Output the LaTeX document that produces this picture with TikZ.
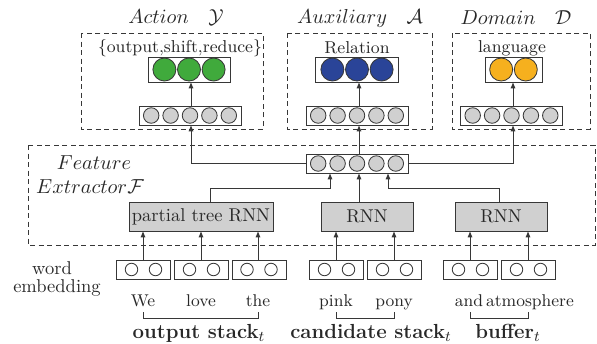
\documentclass[tikz,border=0pt]{standalone}
\usetikzlibrary{arrows.meta}
\definecolor{cgreen}{RGB}{64,170,60}
\definecolor{cblue}{RGB}{42,68,152}
\definecolor{corange}{RGB}{246,176,30}
\definecolor{cgray}{RGB}{208,208,208}
\definecolor{lcol}{RGB}{55,55,55}
\definecolor{tcol}{RGB}{40,40,40}
\begin{document}
\begin{tikzpicture}[x=0.54pt,y=-0.54pt,
  every node/.style={text=tcol},
  vbox/.style 2 args={draw=lcol, fill=white, line width=0.5pt, inner sep=0pt,
     minimum width=#1*0.54pt, minimum height=#2*0.54pt},
  rbox/.style={draw=lcol, fill=cgray, line width=0.5pt, inner sep=0pt,
     minimum width=#1*0.54pt, minimum height=29*0.54pt},
  dot/.style 2 args={circle, draw=lcol, line width=0.45pt, fill=#1, inner sep=0pt,
     minimum size=#2*0.54pt},
  dbox/.style={draw=lcol, dashed, dash pattern=on 2.7pt off 1.9pt, line width=0.45pt},
  conn/.style={draw=lcol, line width=0.5pt},
  arr/.style={conn, -{Latex[length=3.4pt,width=2.8pt]}},
  ttl/.style={font=\fontsize{10.6}{12}\selectfont, inner sep=0pt},
  lbl/.style={font=\fontsize{10}{12}\selectfont, inner sep=0pt},
  olbl/.style={font=\fontsize{9.3}{11}\selectfont, inner sep=0pt},
  wrd/.style={font=\fontsize{9.2}{11}\selectfont, inner sep=0pt},
  bld/.style={font=\fontsize{11}{13}\selectfont\bfseries, inner sep=0pt}
]
\useasboundingbox (0,0) rectangle (597,343);

% dashed boxes
\draw[dbox] (81,33) rectangle (263,129);
\draw[dbox] (287,33) rectangle (432,129);
\draw[dbox] (452,33) rectangle (590,129);
\draw[dbox] (28,145) rectangle (595,245);

% titles
\node[ttl] (tact) at (176,18) {$Action\quad\mathcal{Y}$};
\node[ttl] (taux) at (360,18) {$Auxiliary\quad\mathcal{A}$};
\node[ttl] (tdom) at (516,18) {$Domain\quad\mathcal{D}$};

% output labels
\node[olbl] (lact) at (180,48) {\{output,shift,reduce\}};
\node[olbl] (laux) at (357,48) {Relation};
\node[olbl] (ldom) at (512,48) {language};

% output layers
\node[vbox={82}{25}] (act) at (189,69.5) {};
\foreach \i in {-1,0,1} \node[dot={cgreen}{23}] at (189+\i*24.6,69.5) {};
\node[vbox={83}{25}] (aux) at (357,69.5) {};
\foreach \i in {-1,0,1} \node[dot={cblue}{23}] at (357+\i*24.6,69.5) {};
\node[vbox={57}{25}] (dom) at (513.5,69.5) {};
\foreach \i in {-1,1} \node[dot={corange}{23}] at (513.5+\i*12.3,69.5) {};

% hidden layers
\node[vbox={102}{19}] (actv) at (190,115.5) {};
\foreach \i in {-2,...,2} \node[dot={cgray}{15.5}] at (190+\i*19.4,115.5) {};
\node[vbox={102}{19}] (auxv) at (357,115.5) {};
\foreach \i in {-2,...,2} \node[dot={cgray}{15.5}] at (357+\i*19.4,115.5) {};
\node[vbox={102}{19}] (domv) at (511.5,115.5) {};
\foreach \i in {-2,...,2} \node[dot={cgray}{15.5}] at (511.5+\i*19.4,115.5) {};

% feature vector
\node[vbox={102}{19}] (feat) at (357,163.5) {};
\foreach \i in {-2,...,2} \node[dot={cgray}{15.5}] at (357+\i*19.4,163.5) {};

% feature extractor label
\node[ttl] (tf1) at (94,163) {$Feature$};
\node[ttl] (tf2) at (90,187) {$Extractor\mathcal{F}$};

% RNN boxes
\node[rbox=144, lbl] (ptr) at (201,216.5) {partial tree RNN};
\node[rbox=92, lbl] (rnn1) at (367,216.5) {RNN};
\node[rbox=92, lbl] (rnn2) at (501,216.5) {RNN};

% word embeddings
\node[lbl, anchor=base] (we1) at (52,274) {word};
\node[lbl, anchor=base] (we2) at (57,292.5) {embedding};
\foreach \n/\c in {w1/143.5,w2/201.5,w3/259,w4/336.5,w5/394.5,w6/470.5,w7/528.5}{
  \node[vbox={54}{19}] (\n) at (\c,269.5) {};
  \node[dot={white}{12.5}] at (\c-12,269.5) {};
  \node[dot={white}{12.5}] at (\c+12,269.5) {};
}

% words
\node[wrd, anchor=base] (t1) at (143,306) {We};
\node[wrd, anchor=base] (t2) at (201,306) {love};
\node[wrd, anchor=base] (t3) at (258,306) {the};
\node[wrd, anchor=base] (t4) at (336,306) {pink};
\node[wrd, anchor=base] (t5) at (394,306) {pony};
\node[wrd, anchor=base] (t6) at (469,306) {and};
\node[wrd, anchor=base] (t7) at (530,306) {atmosphere};

% brackets
\draw[conn] (143,312) -- (143,318) -- (258,318) -- (258,312);
\draw[conn] (336,312) -- (336,318) -- (394,318) -- (394,312);
\draw[conn] (470,312) -- (470,318) -- (528,318) -- (528,312);

% stack labels
\node[bld] (s1) at (199,333) {output stack$_t$};
\node[bld] (s2) at (371,333) {candidate stack$_t$};
\node[bld] (s3) at (508,333) {buffer$_t$};

% word -> RNN arrows
\draw[arr] (w1.north -| 143,0) -- (143,231);
\draw[arr] (201,260) -- (201,231);
\draw[arr] (258,260) -- (258,231);
\draw[arr] (336,260) -- (336,231);
\draw[arr] (394,260) -- (394,231);
\draw[arr] (470,260) -- (470,231);
\draw[arr] (528,260) -- (528,231);

% RNN -> feature
\coordinate (c1) at (330,188);
\coordinate (c2) at (388,188);
\draw[arr] (210,202) |- (c1) -- (330,173);
\draw[arr] (359,202) -- (359,173);
\draw[arr] (499,202) |- (c2) -- (388,173);

% feature -> task hidden
\draw[arr] (feat.west) -| (191,125);
\draw[arr] (359,154) -- (359,125);
\draw[arr] (feat.east) -| (513,125);

% hidden -> output
\draw[arr] (191,106) -- (191,82);
\draw[arr] (359,106) -- (359,82);
\draw[arr] (513,106) -- (513,82);
\end{tikzpicture}
\end{document}
